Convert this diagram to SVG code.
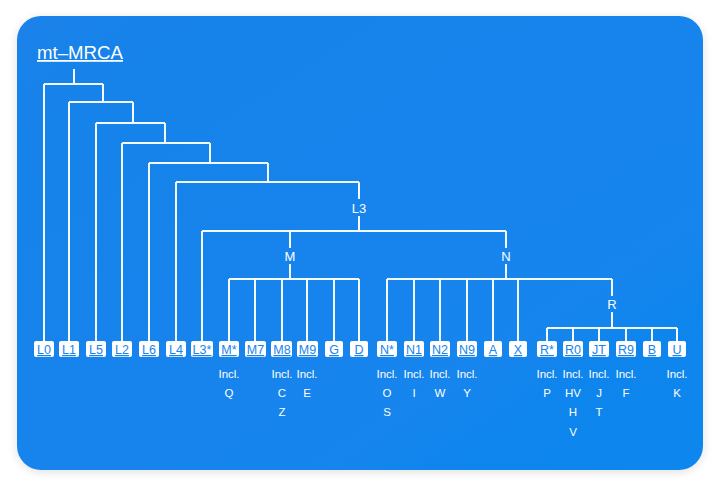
<svg xmlns="http://www.w3.org/2000/svg" width="720" height="487" viewBox="0 0 720 487">
<defs>
<filter id="sh" x="-10%" y="-10%" width="120%" height="120%"><feDropShadow dx="0" dy="2" stdDeviation="5" flood-color="#000" flood-opacity="0.12"/></filter>
<linearGradient id="bg" x1="0" y1="0" x2="1" y2="1"><stop offset="0" stop-color="#1a82ea"/><stop offset="1" stop-color="#0f86ee"/></linearGradient>
</defs>
<style>
.ln{fill:none;stroke:#f2f9ff;stroke-width:2}
.bx{fill:#ffffff}
.lt{font-family:"Liberation Sans",Arial,sans-serif;font-size:12.5px;fill:#1784ec;text-anchor:middle;text-decoration:underline}
.nl{font-family:"Liberation Sans",Arial,sans-serif;font-size:13px;fill:#ffffff;text-anchor:middle}
.in{font-family:"Liberation Sans",Arial,sans-serif;font-size:11.5px;fill:#ffffff;text-anchor:middle}
.tt{font-family:"Liberation Sans",Arial,sans-serif;font-size:18px;fill:#ffffff;text-decoration:underline}
</style>
<rect x="0" y="0" width="720" height="487" fill="#ffffff"/>
<rect x="17" y="16" width="686" height="454" rx="24" fill="url(#bg)" filter="url(#sh)"/>
<g id="title"><text class="tt" x="37" y="59" textLength="86" lengthAdjust="spacingAndGlyphs">mt–MRCA</text></g>
<g id="connectors">
<path class="ln" d="M74 69V84M44 84H103M44 84V341M103 84V102"/>
<path class="ln" d="M69 102H133M69 102V341M133 102V123"/>
<path class="ln" d="M96 123H165M96 123V341M165 123V143"/>
<path class="ln" d="M122 143H210M122 143V341M210 143V163"/>
<path class="ln" d="M149 163H268M149 163V341M268 163V182"/>
<path class="ln" d="M176 182H359M176 182V341M359 182V199M359 216V231"/>
<path class="ln" d="M202 231H506M202 231V341M290 231V248M290 264V279M506 231V248M506 264V279"/>
<path class="ln" d="M229 279H359M229 279V341M255 279V341M282 279V341M307 279V341M334 279V341M359 279V341"/>
<path class="ln" d="M387 279H612M387 279V341M414 279V341M440 279V341M467 279V341M493 279V341M518 279V341M612 279V296M612 312V328"/>
<path class="ln" d="M547 328H677M547 328V341M573 328V341M599 328V341M626 328V341M652 328V341M677 328V341"/>
</g>
<g id="L3"><text class="nl" x="359" y="212.5">L3</text></g>
<g id="M"><text class="nl" x="290" y="260.5">M</text></g>
<g id="N"><text class="nl" x="506" y="260.5">N</text></g>
<g id="R"><text class="nl" x="612" y="308.5">R</text></g>
<g id="leaf-L0"><rect class="bx" x="34" y="341" width="20" height="16" rx="2"/><text class="lt" x="44" y="354">L0</text></g>
<g id="leaf-L1"><rect class="bx" x="59" y="341" width="20" height="16" rx="2"/><text class="lt" x="69" y="354">L1</text></g>
<g id="leaf-L5"><rect class="bx" x="86" y="341" width="20" height="16" rx="2"/><text class="lt" x="96" y="354">L5</text></g>
<g id="leaf-L2"><rect class="bx" x="112" y="341" width="20" height="16" rx="2"/><text class="lt" x="122" y="354">L2</text></g>
<g id="leaf-L6"><rect class="bx" x="139" y="341" width="20" height="16" rx="2"/><text class="lt" x="149" y="354">L6</text></g>
<g id="leaf-L4"><rect class="bx" x="166" y="341" width="20" height="16" rx="2"/><text class="lt" x="176" y="354">L4</text></g>
<g id="leaf-L3s"><rect class="bx" x="191" y="341" width="22" height="16" rx="2"/><text class="lt" x="202" y="354">L3*</text></g>
<g id="leaf-Ms"><rect class="bx" x="219" y="341" width="20" height="16" rx="2"/><text class="lt" x="229" y="354">M*</text><text class="in" x="229" y="378">Incl.</text><text class="in" x="229" y="397">Q</text></g>
<g id="leaf-M7"><rect class="bx" x="245" y="341" width="21" height="16" rx="2"/><text class="lt" x="255.5" y="354">M7</text></g>
<g id="leaf-M8"><rect class="bx" x="271" y="341" width="21" height="16" rx="2"/><text class="lt" x="282" y="354">M8</text><text class="in" x="282" y="378">Incl.</text><text class="in" x="282" y="397">C</text><text class="in" x="282" y="416">Z</text></g>
<g id="leaf-M9"><rect class="bx" x="297" y="341" width="21" height="16" rx="2"/><text class="lt" x="307.5" y="354">M9</text><text class="in" x="307" y="378">Incl.</text><text class="in" x="307" y="397">E</text></g>
<g id="leaf-G"><rect class="bx" x="325" y="341" width="18" height="16" rx="2"/><text class="lt" x="334" y="354">G</text></g>
<g id="leaf-D"><rect class="bx" x="350" y="341" width="18" height="16" rx="2"/><text class="lt" x="359" y="354">D</text></g>
<g id="leaf-Ns"><rect class="bx" x="377" y="341" width="20" height="16" rx="2"/><text class="lt" x="387" y="354">N*</text><text class="in" x="387" y="378">Incl.</text><text class="in" x="387" y="397">O</text><text class="in" x="387" y="416">S</text></g>
<g id="leaf-N1"><rect class="bx" x="404" y="341" width="20" height="16" rx="2"/><text class="lt" x="414" y="354">N1</text><text class="in" x="414" y="378">Incl.</text><text class="in" x="414" y="397">I</text></g>
<g id="leaf-N2"><rect class="bx" x="430" y="341" width="20" height="16" rx="2"/><text class="lt" x="440" y="354">N2</text><text class="in" x="440" y="378">Incl.</text><text class="in" x="440" y="397">W</text></g>
<g id="leaf-N9"><rect class="bx" x="457" y="341" width="20" height="16" rx="2"/><text class="lt" x="467" y="354">N9</text><text class="in" x="467" y="378">Incl.</text><text class="in" x="467" y="397">Y</text></g>
<g id="leaf-A"><rect class="bx" x="484" y="341" width="18" height="16" rx="2"/><text class="lt" x="493" y="354">A</text></g>
<g id="leaf-X"><rect class="bx" x="509" y="341" width="18" height="16" rx="2"/><text class="lt" x="518" y="354">X</text></g>
<g id="leaf-Rs"><rect class="bx" x="537" y="341" width="20" height="16" rx="2"/><text class="lt" x="547" y="354">R*</text><text class="in" x="547" y="378">Incl.</text><text class="in" x="547" y="397">P</text></g>
<g id="leaf-R0"><rect class="bx" x="563" y="341" width="20" height="16" rx="2"/><text class="lt" x="573" y="354">R0</text><text class="in" x="573" y="378">Incl.</text><text class="in" x="573" y="397">HV</text><text class="in" x="573" y="416">H</text><text class="in" x="573" y="436">V</text></g>
<g id="leaf-JT"><rect class="bx" x="589" y="341" width="20" height="16" rx="2"/><text class="lt" x="599" y="354">JT</text><text class="in" x="599" y="378">Incl.</text><text class="in" x="599" y="397">J</text><text class="in" x="599" y="416">T</text></g>
<g id="leaf-R9"><rect class="bx" x="616" y="341" width="20" height="16" rx="2"/><text class="lt" x="626" y="354">R9</text><text class="in" x="626" y="378">Incl.</text><text class="in" x="626" y="397">F</text></g>
<g id="leaf-B"><rect class="bx" x="643" y="341" width="18" height="16" rx="2"/><text class="lt" x="652" y="354">B</text></g>
<g id="leaf-U"><rect class="bx" x="668" y="341" width="18" height="16" rx="2"/><text class="lt" x="677" y="354">U</text><text class="in" x="677" y="378">Incl.</text><text class="in" x="677" y="397">K</text></g>
</svg>
